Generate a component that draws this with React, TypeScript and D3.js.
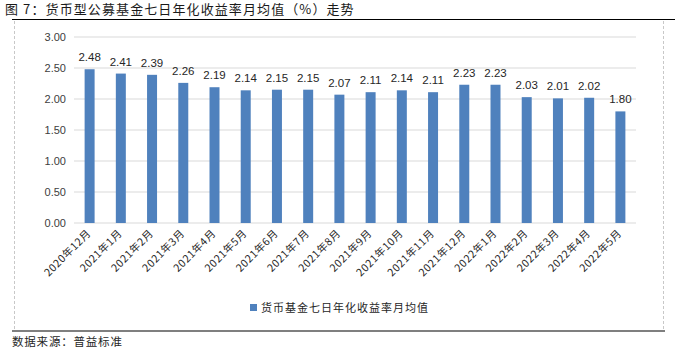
import React from "react";
import * as d3 from "d3";

const categories = [
  "2020年12月", "2021年1月", "2021年2月", "2021年3月", "2021年4月", "2021年5月",
  "2021年6月", "2021年7月", "2021年8月", "2021年9月", "2021年10月", "2021年11月",
  "2021年12月", "2022年1月", "2022年2月", "2022年3月", "2022年4月", "2022年5月",
];
const values = [2.48, 2.41, 2.39, 2.26, 2.19, 2.14, 2.15, 2.15, 2.07, 2.11, 2.14, 2.11, 2.23, 2.23, 2.03, 2.01, 2.02, 1.80];
const yTicks = [0, 0.5, 1, 1.5, 2, 2.5, 3];
const seriesName = "货币基金七日年化收益率月均值";
const title = "图 7：货币型公募基金七日年化收益率月均值（%）走势";
const source = "数据来源：普益标准";

const W = 675;
const H = 352;
const plot = { left: 74, right: 636, top: 37, bottom: 223 };
const barColor = "#4F81BD";
const cjk = "'Noto Sans CJK SC', 'Liberation Sans', sans-serif";
const latin = "'Liberation Sans', Arial, sans-serif";

export default function App() {
  const x = d3.scaleBand<string>().domain(categories).range([plot.left, plot.right]).paddingInner(0.68).paddingOuter(0.34);
  const y = d3.scaleLinear().domain([0, 3]).range([plot.bottom, plot.top]);
  const bw = x.bandwidth();
  return (
    <svg width={W} height={H} style={{ position: "absolute", left: 0, top: 0, background: "#fff" }}>
      <text x={5} y={14} fontFamily={cjk} fontSize={13} letterSpacing={1.1} fill="#1a1a1a">{title}</text>
      <line x1={12} x2={675} y1={19.5} y2={19.5} stroke="#000" strokeWidth={1.2} />
      <line x1={14.5} x2={14.5} y1={21} y2={330} stroke="#c8c8c8" strokeDasharray="3,2" />
      <line x1={663.5} x2={663.5} y1={21} y2={330} stroke="#c8c8c8" strokeDasharray="3,2" />
      {yTicks.map((t) => (
        <g key={t}>
          <line x1={plot.left} x2={plot.right} y1={y(t)} y2={y(t)} stroke="#d9d9d9" strokeWidth={1} />
          <text x={66} y={y(t) + 4} textAnchor="end" fontFamily={latin} fontSize={11} fill="#404040">
            {d3.format(".2f")(t)}
          </text>
        </g>
      ))}
      {categories.map((c, i) => {
        const cx = (x(c) as number) + bw / 2;
        return (
          <g key={c}>
            <rect x={x(c)} y={y(values[i])} width={bw} height={y(0) - y(values[i])} fill={barColor} />
            <text x={cx} y={y(values[i]) - 8} textAnchor="middle" fontFamily={latin} fontSize={11.5} fill="#262626">
              {d3.format(".2f")(values[i])}
            </text>
            <text
              transform={`translate(${cx + 2},${234}) rotate(-45)`}
              textAnchor="end"
              fontFamily={cjk}
              fontSize={10.5}
              letterSpacing={0.6}
              fill="#262626"
            >
              {c}
            </text>
          </g>
        );
      })}
      <rect x={250} y={304} width={7} height={7} fill={barColor} />
      <text x={261} y={312} fontFamily={cjk} fontSize={11} letterSpacing={1} fill="#262626">{seriesName}</text>
      <line x1={12} x2={665} y1={331} y2={331} stroke="#000" strokeWidth={1.2} />
      <text x={12} y={346} fontFamily={cjk} fontSize={11.5} letterSpacing={0.8} fill="#262626">{source}</text>
    </svg>
  );
}
